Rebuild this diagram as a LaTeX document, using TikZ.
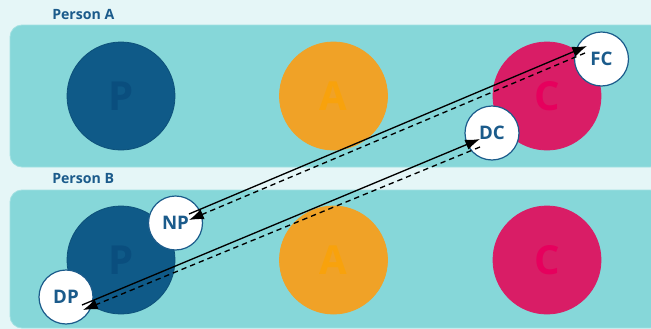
\documentclass[tikz,border=0pt]{standalone}
\usepackage{fontspec}
\setmainfont{Open Sans}
\usetikzlibrary{arrows.meta,calc}

\definecolor{pagebg}{HTML}{E5F6F7}
\definecolor{bandfill}{HTML}{86D7D9}
\definecolor{bandedge}{HTML}{A2E1E2}
\definecolor{pblue}{HTML}{0F5A88}
\definecolor{ptext}{HTML}{0A4E7E}
\definecolor{aorange}{HTML}{F0A227}
\definecolor{atext}{HTML}{F8A20C}
\definecolor{cpink}{HTML}{D91D66}
\definecolor{ctext}{HTML}{E6005D}
\definecolor{inkblue}{HTML}{1B5B8B}

\tikzset{
  band/.style={fill=bandfill, draw=bandedge, line width=0.6pt, rounded corners=9pt},
  person/.style={text=inkblue, font=\bfseries\fontsize{10.6}{12}\selectfont, anchor=west, inner sep=0pt},
  bigcirc/.style={circle, minimum size=81pt, inner sep=0pt, line width=0.6pt, font=\bfseries\fontsize{30}{32}\selectfont},
  smallcirc/.style={circle, minimum size=40.5pt, inner sep=0pt, fill=white, draw=inkblue, line width=0.9pt, text=inkblue, font=\bfseries\fontsize{14}{16}\selectfont},
  req/.style={line width=1pt, -{Latex[length=11pt,width=8pt]}},
  resp/.style={line width=1pt, dash pattern=on 4pt off 3pt, -{Latex[length=11pt,width=8pt]}}
}

\begin{document}
\begin{tikzpicture}[x=0.75pt,y=0.75pt,yscale=-1,xscale=1]
%Page background
\fill[pagebg] (0,0) rectangle (651,329);
\useasboundingbox (0,0) rectangle (651,329);

%Shape: Band for the first person
\draw[band] (10,25) rectangle (662,167);
%Shape: Band for the second person
\draw[band] (10,190) rectangle (662,328);

% Text Node
\node[person] (labA) at (52,15) {Person A};
% Text Node
\node[person] (labB) at (52,179) {Person B};

%Shape: Circles, first row
\node[bigcirc, fill=pblue, draw=pblue!90!black, text=ptext] (PA) at (121,96) {P};
\node[bigcirc, fill=aorange, draw=aorange, text=atext] (AA) at (333.5,96) {A};
\node[bigcirc, fill=cpink, draw=cpink, text=ctext] (CA) at (547,96) {C};

%Shape: Circles, second row
\node[bigcirc, fill=pblue, draw=pblue!90!black, text=ptext] (PB) at (121,260) {P};
\node[bigcirc, fill=aorange, draw=aorange, text=atext] (AB) at (333.5,260) {A};
\node[bigcirc, fill=cpink, draw=cpink, text=ctext] (CB) at (547,260) {C};

%Shape: small white circles
\node[smallcirc] (FC) at (601.5,59) {FC};
\node[smallcirc] (DC) at (492,133) {DC};
\node[smallcirc] (NP) at (175.5,223) {NP};
\node[smallcirc] (DP) at (66,297) {DP};

%Straight Lines: NP <-> FC
\draw[req] ($(NP)+(13.5,-9)$) -- ($(FC)+(-14.5,-13)$);
\draw[resp] ($(FC)+(-16.5,-6)$) -- ($(NP)+(13.5,-3)$);
%Straight Lines: DP <-> DC
\draw[req] ($(DP)+(16,8)$) -- ($(DC)+(-12,6)$);
\draw[resp] ($(DC)+(-12,14)$) -- ($(DP)+(17,13)$);

\end{tikzpicture}
\end{document}
